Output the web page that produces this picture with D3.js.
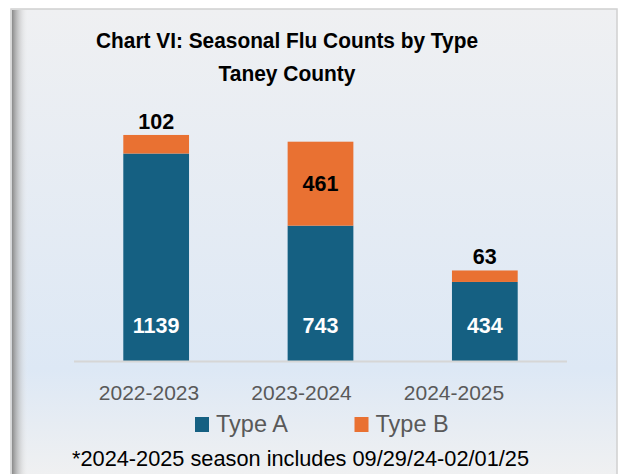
<!DOCTYPE html>
<html>
<head>
<meta charset="utf-8">
<script src="https://cdn.jsdelivr.net/npm/d3@7"></script>
<style>
  body { margin: 0; background: #fff; }
  svg { display: block; font-family: "Liberation Sans", Arial, sans-serif; }
</style>
</head>
<body>
<div class="visualization"></div>
<script>
// chart data
const seasons = ["2022-2023", "2023-2024", "2024-2025"];
const typeA = [1139, 743, 434];
const typeB = [102, 461, 63];
const seriesNames = ["Type A", "Type B"];
const seriesColors = ["#156082", "#E97132"];

const titleLines = ["Chart VI: Seasonal Flu Counts by Type", "Taney County"];
const footnote = "*2024-2025 season includes 09/29/24-02/01/25";

const W = 623, H = 474;
const svg = d3.select(".visualization")
    .append("svg")
    .attr("width", W)
    .attr("height", H);

const defs = svg.append("defs");
const bg = defs.append("linearGradient")
    .attr("id", "bg").attr("x1", 0).attr("y1", 0).attr("x2", 0).attr("y2", 1);
bg.append("stop").attr("offset", "0%").attr("stop-color", "#eff0f2");
bg.append("stop").attr("offset", "76%").attr("stop-color", "#dde8f5");
bg.append("stop").attr("offset", "100%").attr("stop-color", "#f1f1f1");

const shade = defs.append("linearGradient")
    .attr("id", "shade").attr("x1", 0).attr("y1", 0).attr("x2", 1).attr("y2", 0);
shade.append("stop").attr("offset", "0%").attr("stop-color", "#8a8a8a").attr("stop-opacity", 1);
shade.append("stop").attr("offset", "100%").attr("stop-color", "#eeeeee").attr("stop-opacity", 0);

// frame
svg.append("rect")
    .attr("x", 11).attr("y", 9).attr("width", 606).attr("height", H)
    .attr("fill", "url(#bg)")
    .attr("stroke", "#d0d0d0").attr("stroke-width", 1.5);
svg.append("rect")
    .attr("x", 12).attr("y", 10).attr("width", 16).attr("height", H)
    .attr("fill", "url(#shade)");

// title
svg.append("g").selectAll("text")
    .data(titleLines)
    .join("text")
    .attr("x", 287)
    .attr("y", (d, i) => 48 + i * 33)
    .attr("text-anchor", "middle")
    .attr("font-weight", "bold")
    .attr("font-size", 22.5)
    .attr("fill", "#000")
    .attr("textLength", (d, i) => i === 0 ? 382 : 137)
    .attr("lengthAdjust", "spacingAndGlyphs")
    .text(d => d);

// scales
const x = d3.scaleBand()
    .domain(seasons)
    .range([74, 567])
    .paddingInner(0.6)
    .paddingOuter(0.3);

const y = d3.scaleLinear()
    .domain([0, 1400])
    .range([361, 106]);

const stackData = seasons.map((s, i) => ({ season: s, "Type A": typeA[i], "Type B": typeB[i] }));
const stacked = d3.stack().keys(seriesNames)(stackData);

const color = d3.scaleOrdinal().domain(seriesNames).range(seriesColors);

// bars
svg.append("g")
    .selectAll("g")
    .data(stacked)
    .join("g")
    .attr("fill", d => color(d.key))
    .selectAll("rect")
    .data(d => d)
    .join("rect")
    .attr("x", d => x(d.data.season))
    .attr("y", d => y(d[1]))
    .attr("width", x.bandwidth())
    .attr("height", d => y(d[0]) - y(d[1]));

// axis line
svg.append("line")
    .attr("x1", 74).attr("x2", 567)
    .attr("y1", y(0) + 0.5).attr("y2", y(0) + 0.5)
    .attr("stroke", "#d6d6d6").attr("stroke-width", 2);

// labels Type A (inside base)
svg.append("g").selectAll("text")
    .data(stacked[0])
    .join("text")
    .attr("x", d => x(d.data.season) + x.bandwidth() / 2)
    .attr("y", d => y(d[0]) - 28)
    .attr("text-anchor", "middle")
    .attr("font-weight", "bold")
    .attr("font-size", 21.5)
    .attr("fill", "#fff")
    .text(d => d.data["Type A"]);

// labels Type B: inside if tall, above otherwise
svg.append("g").selectAll("text")
    .data(stacked[1])
    .join("text")
    .attr("x", d => x(d.data.season) + x.bandwidth() / 2)
    .attr("y", d => {
        const h = y(d[0]) - y(d[1]);
        return h > 40 ? (y(d[0]) + y(d[1])) / 2 + 7.5 : y(d[1]) - 6;
    })
    .attr("text-anchor", "middle")
    .attr("font-weight", "bold")
    .attr("font-size", 21.5)
    .attr("fill", "#000")
    .text(d => d.data["Type B"]);

// category labels
const xLabel = d3.scalePoint().domain(seasons).range([149, 454]);
svg.append("g").selectAll("text")
    .data(seasons)
    .join("text")
    .attr("x", d => xLabel(d))
    .attr("y", 400)
    .attr("text-anchor", "middle")
    .attr("font-size", 21)
    .attr("fill", "#595959")
    .text(d => d);

// legend
const legendX = d3.scalePoint().domain(seriesNames).range([195, 354.5]);
const lg = svg.append("g").selectAll("g")
    .data(seriesNames)
    .join("g")
    .attr("transform", d => `translate(${legendX(d)},0)`);
lg.append("rect")
    .attr("x", 0).attr("y", 417)
    .attr("width", 14).attr("height", 15)
    .attr("fill", d => color(d));
lg.append("text")
    .attr("x", 21).attr("y", 432)
    .attr("font-size", 23.5)
    .attr("fill", "#595959")
    .text(d => d);

// footnote
svg.append("text")
    .attr("x", 72).attr("y", 466)
    .attr("font-size", 21.5)
    .attr("fill", "#000")
    .attr("textLength", 457)
    .attr("lengthAdjust", "spacingAndGlyphs")
    .text(footnote);
</script>
</body>
</html>
